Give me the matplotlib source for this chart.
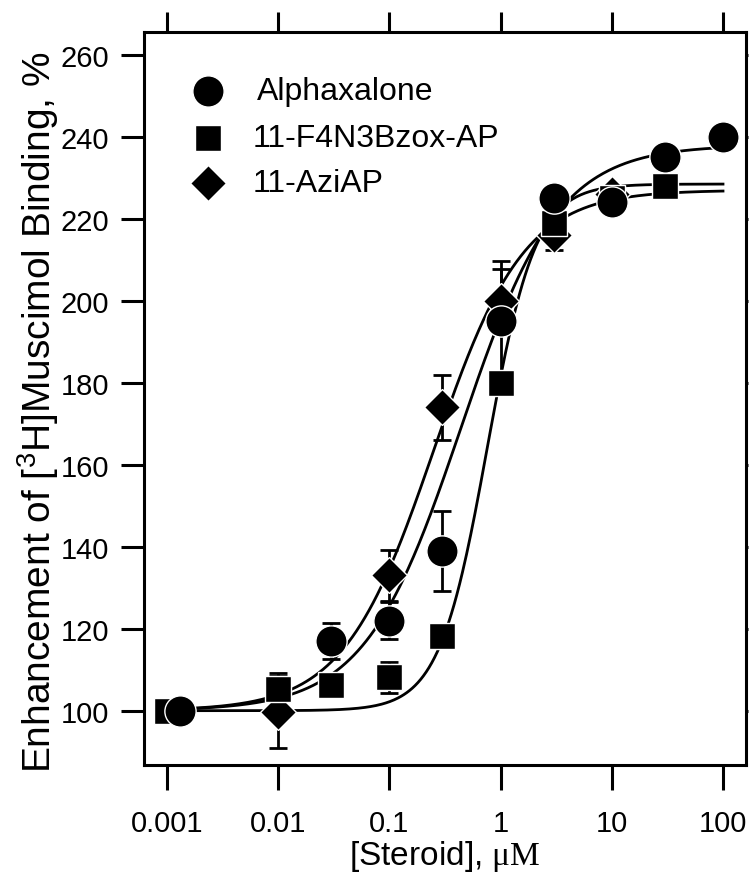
import numpy as np
import matplotlib
matplotlib.use("Agg")
import matplotlib.pyplot as plt
from matplotlib.ticker import FixedLocator, NullLocator

# ---------------- data ----------------
alpha_x = [0.0013, 0.03, 0.1, 0.3, 1, 3, 10, 30, 100]
alpha_y = [100, 117, 122, 139, 195, 225, 224, 235, 240]
alpha_e = [0.5, 4.5, 4.5, 9.7, 14.8, 2, 2, 2, 1]

f4_x = [0.001, 0.01, 0.03, 0.1, 0.3, 1, 3, 10, 30]
f4_y = [100, 105.3, 106.3, 108.2, 118.2, 180, 219, 225, 228]
f4_e = [0.5, 4, 2, 3.8, 2, 3, 2.5, 3, 1]

azi_x = [0.01, 0.1, 0.3, 1, 3, 10]
azi_y = [99.7, 133, 174, 200, 216, 226]
azi_e = [8.8, 6.2, 8, 7.8, 3.5, 2]

# Hill-fit parameters (bottom, top, EC50 in uM, Hill coefficient)
alpha_fit = (100, 238.0, 0.44, 1.0)
f4_fit = (100, 228.5, 0.76, 2.0)
azi_fit = (100, 227.0, 0.25, 1.07)

labels = ["Alphaxalone", "11-F4N3Bzox-AP", "11-AziAP"]
xticks = [0.001, 0.01, 0.1, 1, 10, 100]
xticklabels = ["0.001", "0.01", "0.1", "1", "10", "100"]
yticks = [100, 120, 140, 160, 180, 200, 220, 240, 260]

# ---------------- style ----------------
plt.rcParams['font.family'] = ['Liberation Sans', 'DejaVu Sans']
plt.rcParams['mathtext.fontset'] = 'custom'
plt.rcParams['mathtext.rm'] = 'Liberation Sans'
plt.rcParams['mathtext.sf'] = 'Liberation Sans'
plt.rcParams['mathtext.it'] = 'Liberation Sans:italic'
plt.rcParams['mathtext.tt'] = 'Liberation Serif'

fig = plt.figure(figsize=(7.5, 8.78), dpi=100)
ax = fig.add_axes([144/750, 112/878, 602/750, 733/878])

def hill(x, p):
    b, t, ec, n = p
    return b + (t - b) / (1 + (ec / x) ** n)

xc = np.logspace(-3, 2, 400)
for p in (alpha_fit, f4_fit, azi_fit):
    ax.plot(xc, hill(xc, p), color='black', lw=2.0, zorder=2)

ekw = dict(fmt='none', ecolor='black', elinewidth=2.0, capsize=6.8, capthick=2.0, zorder=3)
ax.errorbar(azi_x, azi_y, yerr=azi_e, **ekw)
ax.errorbar(f4_x, f4_y, yerr=f4_e, **ekw)
ax.errorbar(alpha_x, alpha_y, yerr=alpha_e, **ekw)

mk_d = dict(marker='D', ms=18.7, mfc='black', mec='white', mew=1.0, ls='none')
mk_s = dict(marker='s', ms=18.5, mfc='black', mec='white', mew=1.0, ls='none')
mk_o = dict(marker='o', ms=22.5, mfc='black', mec='white', mew=1.0, ls='none')
ax.plot(azi_x, azi_y, zorder=4, **mk_d)
ax.plot(f4_x, f4_y, zorder=5, **mk_s)
ax.plot(alpha_x, alpha_y, zorder=6, **mk_o)

# legend (manual placement)
leg_y = [0.9195, 0.8554, 0.794]
leg_tx = [0.188, 0.181, 0.181]
for st, yy, tx, lab in zip((mk_o, mk_s, mk_d), leg_y, leg_tx, labels):
    ax.plot([0.1063], [yy], transform=ax.transAxes, clip_on=False, zorder=7, **st)
    ax.text(tx, yy, lab, transform=ax.transAxes, fontsize=23, va='center', ha='left')

ax.set_xscale('log')
ax.set_xlim(0.000621, 161)
ax.set_ylim(86.75, 265.6)

ax.xaxis.set_major_locator(FixedLocator(xticks))
ax.xaxis.set_minor_locator(NullLocator())
ax.set_xticks(xticks)
ax.set_xticklabels(xticklabels)
ax.set_yticks(yticks)

for s in ax.spines.values():
    s.set_linewidth(2.2)

ax.tick_params(axis='x', which='major', direction='out', length=18, width=2.2,
               labelsize=21, pad=14, top=True, labeltop=False)
ax.tick_params(axis='y', which='major', direction='out', length=16.5, width=2.2,
               labelsize=21, pad=8.5, right=True, labelright=False)
for t in ax.yaxis.get_major_ticks():
    t.tick2line.set_markersize(1.5)
for t in ax.xaxis.get_major_ticks():
    t.tick2line.set_markersize(14.4)

ax.set_xlabel(r'[Steroid], $\mathtt{μM}$', fontsize=24)
ax.xaxis.set_label_coords(0.5, -0.1)
ax.set_ylabel(r'Enhancement of [$^{\mathsf{3}}$H]Muscimol Binding, %', fontsize=28)
ax.yaxis.set_label_coords(-0.138, 0.483)

fig.savefig('out.png', dpi=100)
